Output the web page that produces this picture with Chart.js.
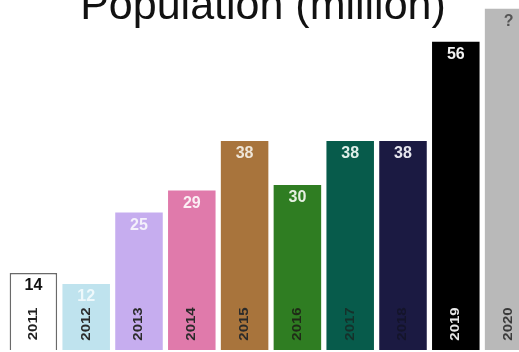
<!DOCTYPE html>
<html>
<head>
<meta charset="utf-8">
<script src="https://cdn.jsdelivr.net/npm/chart.js@4/dist/chart.umd.min.js"></script>
<style>
  html, body { margin: 0; padding: 0; background: #fff; width: 519px; height: 352px; overflow: hidden; position: relative; }
  #title { position: absolute; left: 0; width: 526px; top: -20px; text-align: center; font-family: "Liberation Sans", Arial, sans-serif; font-size: 43px; color: #111; white-space: nowrap; line-height: 48px; z-index: 2; }
  canvas { position: absolute; left: 0; top: 0; }
</style>
</head>
<body>
<div id="title">Population (million)</div>
<canvas id="c" width="535" height="352" style="width:535px;height:352px"></canvas>
<script>
const years = ["2011","2012","2013","2014","2015","2016","2017","2018","2019","2020"];
const population = [14, 12, 25, 29, 38, 30, 38, 38, 56, 62];
const valueLabels = ["14","12","25","29","38","30","38","38","56","?"];

const barColors = ["#ffffff","#bfe3ee","#c6adef","#e07aab","#a8743c","#2f7d22","#075b4b","#1b1a42","#000000","#b9b9b9"];
const borderColors = ["#6a6a6a","#bfe3ee","#c6adef","#e07aab","#a8743c","#2f7d22","#075b4b","#1b1a42","#000000","#b9b9b9"];
const valueColors = ["#111111","#eef8fb","#f4f0fb","#fbeef4","#efe6d8","#e6f0e2","#dfeee9","#e6e6ee","#f2f2f2","#555555"];
const yearColors = ["#222222","#2a2a2a","#2a2a2a","#2a2a2a","#2a2a2a","#1f2a17","#16302a","#14142a","#e8e8e8","#3a3a3a"];

const labelPlugin = {
  id: 'barLabels',
  afterDatasetsDraw(chart) {
    const ctx = chart.ctx;
    const meta = chart.getDatasetMeta(0);
    const yBase = chart.scales.y.getPixelForValue(0);
    meta.data.forEach((bar, i) => {
      ctx.save();
      ctx.textAlign = 'center';
      ctx.textBaseline = 'middle';
      ctx.font = 'bold 16px "Liberation Sans", Arial, sans-serif';
      ctx.fillStyle = valueColors[i];
      ctx.fillText(valueLabels[i], bar.x, bar.y + 13);
      ctx.restore();

      ctx.save();
      ctx.translate(bar.x, yBase - 26);
      ctx.rotate(-Math.PI / 2);
      ctx.scale(1.25, 1);
      ctx.textAlign = 'center';
      ctx.textBaseline = 'middle';
      ctx.font = 'bold 12px "Liberation Sans", Arial, sans-serif';
      ctx.fillStyle = yearColors[i];
      ctx.fillText(years[i], 0, 0);
      ctx.restore();
    });
  }
};

new Chart(document.getElementById('c'), {
  type: 'bar',
  data: {
    labels: years,
    datasets: [{
      data: population,
      backgroundColor: barColors,
      borderColor: borderColors,
      borderWidth: [1.5,0,0,0,0,0,0,0,0,0],
      barPercentage: 0.9,
      categoryPercentage: 1.0
    }]
  },
  options: {
    responsive: false,
    animation: false,
    layout: { padding: { left: 7, right: 0, top: 0, bottom: 2 } },
    plugins: { legend: { display: false }, tooltip: { enabled: false }, title: { display: false } },
    scales: {
      x: { display: false },
      y: { display: false, min: 0, max: 63.6 }
    }
  },
  plugins: [labelPlugin]
});
</script>
</body>
</html>
